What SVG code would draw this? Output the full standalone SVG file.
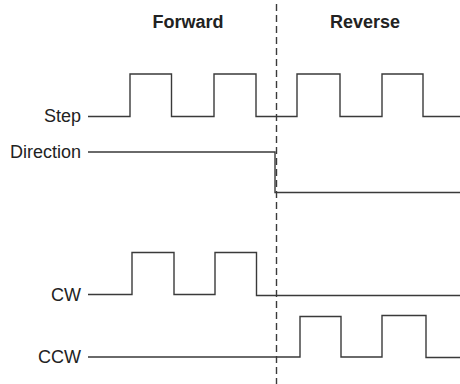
<svg xmlns="http://www.w3.org/2000/svg" width="460" height="384" viewBox="0 0 460 384">
<style>
.sig{fill:none;stroke:#3a3a3a;stroke-width:1.4;stroke-linejoin:miter}
.lbl{font-family:"Liberation Sans",Arial,sans-serif;font-size:18px;fill:#222;text-anchor:end}
.hdr{font-family:"Liberation Sans",Arial,sans-serif;font-size:18px;font-weight:bold;fill:#222;text-anchor:middle}
.div{fill:none;stroke:#3a3a3a;stroke-width:1.4;stroke-dasharray:7 4}
</style>
<rect width="460" height="384" fill="#fff"/>
<g id="headers">
<text class="hdr" x="188" y="28">Forward</text>
<text class="hdr" x="365" y="28">Reverse</text>
</g>
<g id="step">
<text class="lbl" x="81" y="122">Step</text>
<path class="sig" d="M88,116.5 H130 V74 H171.5 V116.5 H214 V74 H256 V116.5 H297 V74 H340 V116.5 H382 V74 H423 V116.5 H460"/>
</g>
<g id="direction">
<text class="lbl" x="81" y="158">Direction</text>
<path class="sig" d="M88,152 H275 V192.5 H460"/>
</g>
<g id="cw">
<text class="lbl" x="81" y="300.5">CW</text>
<path class="sig" d="M88,294.5 H132 V252.5 H174 V294.5 H215 V252.5 H256.5 V295.5 H460"/>
</g>
<g id="ccw">
<text class="lbl" x="81" y="362.5">CCW</text>
<path class="sig" d="M88,357 H300 V316.5 H341 V357 H382 V315.5 H426 V357.5 H460"/>
</g>
<g id="connectors">
<line class="div" x1="276.5" y1="4" x2="276.5" y2="384"/>
</g>
</svg>
